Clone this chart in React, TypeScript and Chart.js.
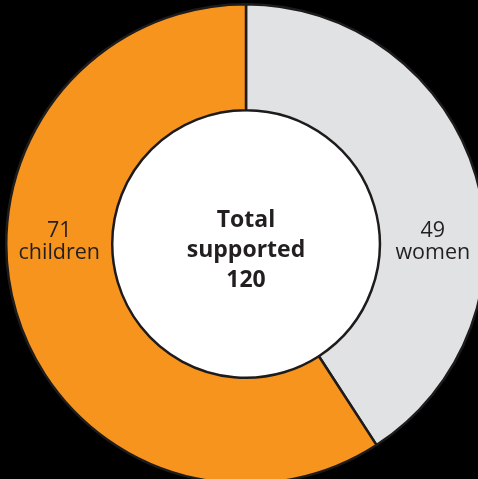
import React, { useEffect, useRef } from "react";
import { Chart, registerables } from "chart.js";

Chart.register(...registerables);

const categories = ["women", "children"];
const values = [49, 71];
const colors = ["#E1E2E4", "#F7941E"];
const centerLines = ["Total", "supported", "120"];

const TEXT = "#231F20";
const FONT = "'Open Sans', 'Noto Sans', sans-serif";

export default function App() {
  const ref = useRef<HTMLCanvasElement | null>(null);

  useEffect(() => {
    const canvas = ref.current;
    if (!canvas) return;

    const overlay = {
      id: "overlay",
      beforeDatasetsDraw(chart: any) {
        const meta = chart.getDatasetMeta(0);
        const arc = meta.data[0];
        if (!arc) return;
        const { x, y, innerRadius } = arc.getProps(["x", "y", "innerRadius"], true);
        const ctx = chart.ctx;
        ctx.save();
        ctx.fillStyle = "#ffffff";
        ctx.beginPath();
        ctx.arc(x, y, innerRadius, 0, Math.PI * 2);
        ctx.fill();
        ctx.restore();
      },
      afterDraw(chart: any) {
        const meta = chart.getDatasetMeta(0);
        const arc = meta.data[0];
        if (!arc) return;
        const { x, y, innerRadius, outerRadius } = arc.getProps(
          ["x", "y", "innerRadius", "outerRadius"],
          true
        );
        const ctx = chart.ctx;
        ctx.save();
        ctx.fillStyle = TEXT;
        ctx.textAlign = "center";
        ctx.textBaseline = "alphabetic";
        // center text
        ctx.font = `bold 23px ${FONT}`;
        centerLines.forEach((t, i) => {
          ctx.fillText(t, x, y - 17 + i * 30);
        });
        // side labels
        const mid = (innerRadius + outerRadius) / 2;
        ctx.font = `21.5px ${FONT}`;
        // women on right, children on left
        const sides = [1, -1];
        categories.forEach((c, i) => {
          const lx = x + sides[i] * mid;
          ctx.fillText(String(values[i]), lx, y - 7);
          ctx.fillText(c, lx, y + 15);
        });
        ctx.restore();
      },
    };

    const chart = new Chart(canvas, {
      type: "doughnut",
      data: {
        labels: categories,
        datasets: [
          {
            data: values,
            backgroundColor: colors,
            borderColor: "#1e1b1c",
            borderWidth: 2.5,
            hoverOffset: 0,
          },
        ],
      },
      options: {
        responsive: false,
        animation: false,
        cutout: "55.8%",
        layout: { padding: 0 },
        plugins: {
          legend: { display: false },
          tooltip: { enabled: false },
        },
      },
      plugins: [overlay],
    });
    return () => chart.destroy();
  }, []);

  return (
    <div
      style={{
        position: "fixed",
        left: 0,
        top: 0,
        width: 478,
        height: 479,
        overflow: "hidden",
        background: "#000000",
      }}
    >
      <canvas
        ref={ref}
        width={482}
        height={482}
        style={{ position: "absolute", left: 5, top: 3, width: 482, height: 482 }}
      />
    </div>
  );
}
